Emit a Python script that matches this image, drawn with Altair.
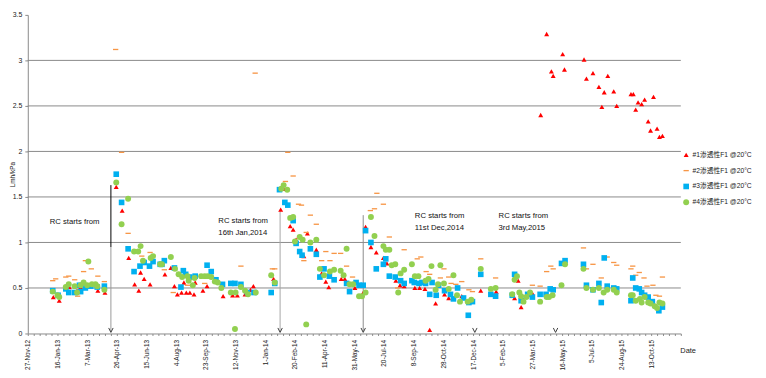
import altair as alt
import pandas as pd

BASE = "2012-11-27"          # x-axis origin (Excel axis minimum)
BASE_MS = 1353974400000      # same date in epoch ms (UTC)
DAY_MS = 86400000
AXIS_DAYS = 1100

SERIES = ["#1渗透性F1 @20°C", "#2渗透性F1 @20°C", "#3渗透性F1 @20°C", "#4渗透性F1 @20°C"]
COLORS = ["#FF0000", "#F79646", "#00B0F0", "#92D050"]

# (days since 2012-11-27, permeability Lmh/kPa)
s1 = [(43,0.40),(53,0.36),(70,0.51),(83,0.47),(89,0.51),(118,0.47),(130,0.45),
      (149,1.61),(159,1.35),(170,0.83),(180,0.54),(187,0.47),(190,0.67),(196,0.60),(206,0.54),
      (231,0.65),(241,0.72),(247,0.52),(252,0.43),(259,0.45),(263,0.56),(267,0.45),(273,0.45),(280,0.43),(282,0.56),
      (295,0.47),(302,0.52),(329,0.41),(345,0.42),(353,0.42),(366,0.43),(375,0.48),(380,0.52),
      (414,0.60),(426,1.36),(431,1.59),(442,1.18),(447,1.14),(452,1.03),(465,0.85),(471,1.10),(486,0.92),
      (495,0.66),(502,0.57),(507,0.51),(528,0.60),(534,0.60),(551,0.50),(565,0.45),
      (569,1.17),(578,0.95),(587,0.89),(599,0.83),(605,0.77),(620,0.58),(627,0.53),(634,0.52),(652,0.50),(660,0.50),
      (669,0.49),(677,0.04),(687,0.33),(702,0.43),(709,0.39),(731,0.41),(763,0.47),(789,0.46),
      (820,0.39),(826,0.58),(831,0.29),(842,0.43),(850,0.44),
      (864,2.40),(874,3.29),(882,2.88),(885,2.83),(901,3.07),(904,2.90),(937,3.01),(941,2.80),(952,2.86),
      (962,2.71),(967,2.49),(971,2.65),(977,2.83),(987,2.66),(992,2.50),(1016,2.63),(1020,2.63),(1024,2.46),
      (1028,2.54),(1034,2.52),(1039,2.57),(1045,2.33),(1049,2.23),(1054,2.60),(1060,2.25),(1064,2.16),(1069,2.17)]

s2 = [(42,0.58),(47,0.60),(64,0.62),(69,0.63),(79,0.59),(84,0.41),(94,0.68),(97,0.80),(107,0.71),(118,0.63),(129,0.57),
      (148,3.12),(158,1.99),(169,1.10),(192,0.85),(206,0.89),
      (230,0.70),(245,0.45),(269,0.53),(298,0.55),(359,0.74),(383,2.86),
      (412,0.71),(416,0.71),(434,1.67),(438,1.99),(447,1.73),(456,1.42),(461,1.41),(465,0.80),(469,1.11),(476,1.30),(486,1.20),
      (495,0.80),(502,0.90),(509,0.80),(516,0.88),(527,0.88),(537,0.74),(547,0.62),
      (577,1.35),(584,1.37),(588,1.54),(599,1.42),(609,1.06),(623,0.50),(634,0.92),(656,0.82),(662,0.84),
      (671,0.68),(677,0.65),(695,0.61),(701,0.71),(709,0.62),(713,0.55),(721,0.54),(731,0.57),(743,0.48),(749,0.46),(763,0.82),
      (788,0.61),(823,0.63),(850,0.53),(863,0.52),(874,0.68),(881,0.74),(885,0.71),
      (936,0.94),(941,0.71),(952,0.76),(966,0.61),(976,0.84),(987,0.78),(992,0.75),
      (1016,0.71),(1019,0.74),(1024,0.64),(1030,0.67),(1038,0.61),(1043,0.52),(1053,0.53),(1058,0.42),(1064,0.41),(1069,0.62)]

s3 = [(42,0.47),(51,0.42),(64,0.49),(69,0.45),(79,0.45),(87,0.53),(89,0.46),(97,0.50),(106,0.52),(117,0.51),(129,0.52),
      (149,1.75),(158,1.44),(169,0.93),(179,0.68),(189,0.74),(196,0.78),(205,0.74),(211,0.79),(223,0.76),
      (226,0.76),(230,0.80),(247,0.72),(258,0.51),(262,0.69),(266,0.65),(273,0.62),(282,0.63),
      (302,0.75),(309,0.68),(317,0.59),(328,0.54),(342,0.55),(349,0.55),(359,0.54),(370,0.45),(381,0.45),
      (410,0.45),(416,0.55),(424,1.58),(433,1.44),(438,1.41),(447,1.24),(452,0.99),(458,0.90),(462,0.86),(476,0.93),(486,0.87),
      (492,0.62),(499,0.71),(508,0.63),(516,0.59),(537,0.55),(542,0.46),(553,0.56),(558,0.53),(565,0.53),
      (569,1.13),(578,1.00),(587,0.71),(599,0.76),(603,0.82),(609,0.63),(619,0.62),(628,0.58),(634,0.55),(647,0.58),(651,0.56),(659,0.55),
      (664,0.56),(670,0.55),(677,0.43),(681,0.56),(688,0.42),(692,0.53),(702,0.47),(712,0.43),(717,0.38),(724,0.50),
      (734,0.39),(742,0.20),(743,0.34),(749,0.35),(763,0.65),
      (780,0.43),(788,0.41),(816,0.42),(820,0.65),(831,0.36),(842,0.43),(850,0.40),(863,0.43),(873,0.43),
      (880,0.49),(885,0.48),(899,0.77),(905,0.80),(936,0.76),(941,0.53),(952,0.48),(962,0.55),(966,0.34),(971,0.83),(976,0.52),(987,0.50),(992,0.49),
      (1016,0.36),(1019,0.61),(1024,0.50),(1030,0.49),(1034,0.45),(1039,0.42),(1045,0.40),(1052,0.35),(1063,0.25),(1069,0.29)]

s4 = [(42,0.46),(50,0.42),(53,0.40),(64,0.51),(69,0.54),(79,0.52),(83,0.45),(89,0.53),(94,0.56),(100,0.53),(102,0.79),
      (108,0.54),(114,0.54),(117,0.52),(129,0.48),
      (149,1.66),(158,1.20),(169,1.48),(179,0.90),(186,0.90),(190,0.96),(194,0.80),(207,0.83),(211,0.85),(223,0.76),
      (226,0.76),(241,0.84),(248,0.71),(254,0.65),(260,0.62),(269,0.63),(271,0.58),(278,0.53),(281,0.61),
      (292,0.63),(298,0.63),(303,0.63),(309,0.62),(315,0.57),(320,0.56),(326,0.50),(342,0.45),(349,0.05),(350,0.45),
      (359,0.51),(366,0.47),(371,0.43),(384,0.45),
      (410,0.64),(416,0.56),(427,1.59),(431,1.63),(437,1.58),(442,1.27),(447,1.28),(450,1.01),(458,1.06),(463,1.03),
      (469,0.10),(476,1.00),(486,1.03),
      (492,0.71),(499,0.64),(509,0.68),(516,0.70),(527,0.69),(532,0.64),(537,0.93),(542,0.54),(548,0.54),(558,0.41),(563,0.41),(569,0.45),
      (578,1.28),(584,1.07),(599,0.96),(603,0.92),(609,0.92),(613,0.75),(619,0.76),(624,0.45),(628,0.66),(634,0.70),(647,0.76),(652,0.63),(658,0.63),
      (670,0.58),(675,0.60),(680,0.74),(687,0.48),(691,0.54),(695,0.75),(701,0.55),(709,0.49),(717,0.64),(723,0.42),(728,0.35),
      (741,0.35),(747,0.37),(763,0.71),
      (780,0.49),(788,0.50),(816,0.43),(820,0.59),(824,0.63),(828,0.45),(831,0.41),(835,0.35),(840,0.40),(846,0.45),(863,0.35),(874,0.40),
      (878,0.40),(884,0.42),(899,0.53),(905,0.76),(936,0.71),(941,0.50),(952,0.48),(962,0.50),(970,0.45),(976,0.48),(987,0.48),(992,0.45),
      (1016,0.42),(1019,0.42),(1024,0.36),(1031,0.38),(1034,0.34),(1039,0.40),(1045,0.34),(1049,0.33),(1056,0.30),
      (1060,0.28),(1064,0.34),(1069,0.33)]

# annotations
arrow_days = [140, 425, 565, 753, 889]
rule_days = [140, 140, 425, 565]
rule_tops = [1.63, 0.95, 1.36, 1.30]
rule_bottoms = [0.95, 0.02, 0.02, 0.02]
rule_colors = ["#000000", "#9A9A9A", "#A6A6A6", "#8C8C8C"]
note_days = [37, 321, 321, 652, 652, 793, 793]
note_vals = [1.22, 1.23, 1.10, 1.29, 1.16, 1.29, 1.16]
note_texts = ["RC starts from", "RC starts from", "16th Jan,2014", "RC starts from",
              "11st Dec,2014", "RC starts from", "3rd May,2015"]
grid_vals = [0.5, 1.0, 1.5, 2.0, 2.5, 3.0]
y_ticks = [0, 0.5, 1, 1.5, 2, 2.5, 3, 3.5]


def to_date(d):
    return (pd.Timestamp(BASE) + pd.to_timedelta(d, unit="D")).strftime("%Y-%m-%d")


rows = []
for name, s in zip(SERIES, [s1, s2, s3, s4]):
    for d, v in s:
        rows.append({"series": name, "date": to_date(d), "value": v})
pts = pd.DataFrame(rows)

rules = pd.DataFrame({"date": [to_date(d) for d in rule_days], "top": rule_tops,
                      "bottom": rule_bottoms, "c": rule_colors})
arrows = pd.DataFrame({"date": [to_date(d) for d in arrow_days], "value": [0.012] * len(arrow_days)})
notes = pd.DataFrame({"date": [to_date(d) for d in note_days], "value": note_vals, "text": note_texts})
grid = pd.DataFrame({"g": grid_vals})

FONT = "Liberation Sans, Arial, sans-serif"
LEG_FONT = "Liberation Sans, Noto Sans CJK SC, sans-serif"

tick_ms = [BASE_MS + i * 10 * DAY_MS for i in range(AXIS_DAYS // 10 + 1)]
xscale = alt.Scale(type="utc", domain=[BASE_MS, BASE_MS + AXIS_DAYS * DAY_MS], nice=False)
yscale = alt.Scale(domain=[0, 3.5], nice=False, zero=False)

xaxis = alt.Axis(
    values=tick_ms,
    labelExpr=("(round((datum.value - %d) / %d) %% 50 == 0) && (datum.value < %d) ? "
               "utcFormat(datum.value, '%%-d-%%b-%%y') : ''") % (BASE_MS, DAY_MS, BASE_MS + AXIS_DAYS * DAY_MS),
    labelAngle=270, labelFont=FONT, labelFontSize=6.5, labelColor="#222222",
    labelOverlap=False, labelFlush=False, labelBound=False, labelPadding=4,
    tickSize=2, tickColor="#8A8A8A", domainColor="#8A8A8A", grid=False,
    title="Date", titleX=659, titleY=17, titleAngle=0, titleAlign="left", titleBaseline="middle",
    titleFont=FONT, titleFontSize=7.5, titleFontWeight="normal", titleColor="#222222",
)
yaxis = alt.Axis(
    values=y_ticks, format="~g", grid=False, tickSize=3, tickColor="#8A8A8A", domainColor="#8A8A8A",
    labelFont=FONT, labelFontSize=7, labelColor="#222222", labelPadding=3,
    title="Lmh/kPa", titleX=-15, titleY=161, titleAngle=270, titleAlign="center", titleBaseline="middle",
    titleFont=FONT, titleFontSize=6.5, titleFontWeight="normal", titleColor="#222222",
)

X = alt.X("date:T", scale=xscale, axis=xaxis)
Y = alt.Y("value:Q", scale=yscale, axis=yaxis)

grid_layer = alt.Chart(grid).mark_rule(color="#8A8A8A", strokeWidth=1).encode(
    y=alt.Y("g:Q", scale=yscale, axis=yaxis)
)

rule_layer = alt.Chart(rules).mark_rule(strokeWidth=1).encode(
    x=X,
    y=alt.Y("top:Q", scale=yscale, axis=yaxis),
    y2="bottom:Q",
    color=alt.Color("c:N", scale=None),
)

arrow_layer = alt.Chart(arrows).mark_point(
    shape="M-1,-2L0,0L1,-2", size=20, filled=False, stroke="#404040", strokeWidth=1, opacity=1
).encode(x=X, y=Y)

note_layer = alt.Chart(notes).mark_text(
    align="left", baseline="middle", font=FONT, fontSize=7.8, color="#111111"
).encode(x=X, y=Y, text="text:N")

point_layer = alt.Chart(pts).mark_point(filled=True, opacity=1, strokeWidth=0).encode(
    x=X, y=Y,
    color=alt.Color("series:N", scale=alt.Scale(domain=SERIES, range=COLORS),
                    legend=alt.Legend(title=None, orient="none", legendX=662, legendY=138,
                                      labelFont=LEG_FONT, labelFontSize=6.8, labelColor="#222222",
                                      rowPadding=8, padding=0, labelOffset=3, symbolStrokeWidth=0,
                                      labelLimit=200)),
    shape=alt.Shape("series:N", scale=alt.Scale(
        domain=SERIES, range=["triangle-up", "M-1,-0.25H1V0.25H-1Z", "square", "circle"])),
    size=alt.Size("series:N", scale=alt.Scale(domain=SERIES, range=[25, 36, 30, 38])),
    order=alt.Order("ord:Q"),
).transform_calculate(ord="indexof(%s, datum.series)" % str(SERIES).replace("'", '"'))

chart = alt.layer(grid_layer, rule_layer, arrow_layer, note_layer, point_layer).properties(
    width=660, height=322,
    autosize=alt.AutoSizeParams(type="none"),
    padding={"left": 20, "top": 5, "right": 78, "bottom": 40},
    background="white",
).configure_view(stroke=None)

chart.save("out.html", embed_options={"renderer": "svg", "actions": False})
